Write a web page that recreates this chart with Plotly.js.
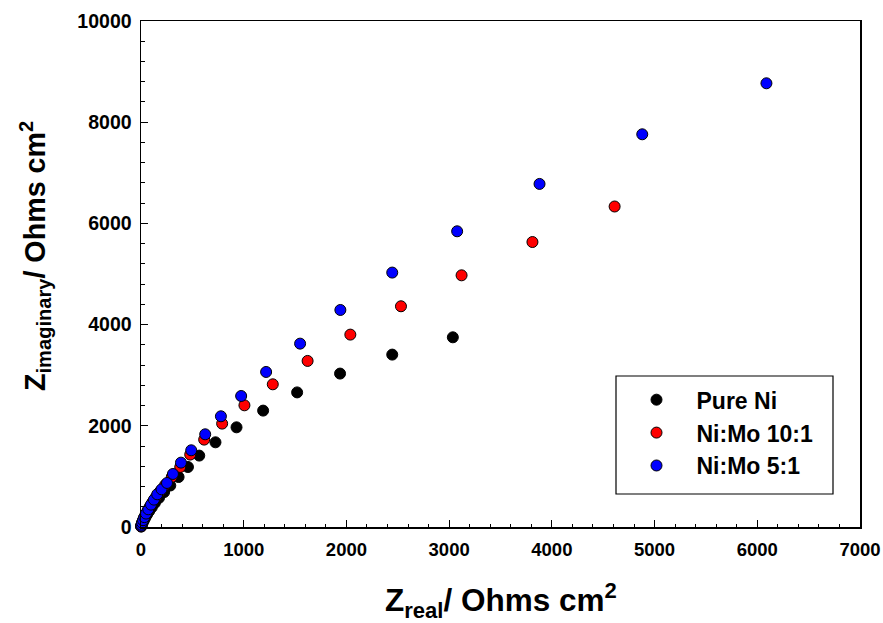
<!DOCTYPE html>
<html>
<head>
<meta charset="utf-8">
<script src="https://cdn.plot.ly/plotly-3.0.1.min.js"></script>
<style>html,body{margin:0;padding:0;background:#fff;}#chart{width:883px;height:623px;}</style>
</head>
<body>
<div id="chart"></div>
<script>
// Pure Ni
const niX = [2, 5, 11, 19, 30, 43, 60, 80, 105, 135, 175, 225, 285, 366, 457, 567, 725, 930, 1189, 1520, 1938, 2446, 3036];
const niY = [10, 30, 60, 95, 140, 190, 250, 315, 390, 475, 575, 690, 820, 988, 1186, 1411, 1674, 1970, 2300, 2660, 3032, 3407, 3749];
// Ni:Mo 10:1
const m10X = [1, 4, 9, 18, 30, 45, 63, 85, 112, 145, 185, 235, 300, 382, 479, 615, 790, 1007, 1283, 1622, 2038, 2531, 3121, 3811, 4611];
const m10Y = [10, 35, 75, 125, 185, 250, 320, 400, 490, 590, 700, 830, 990, 1186, 1431, 1727, 2043, 2405, 2820, 3282, 3802, 4362, 4974, 5632, 6334];
// Ni:Mo 5:1
const m5X = [2, 5, 11, 20, 32, 49, 71, 97, 126, 158, 200, 253, 311, 389, 489, 625, 778, 975, 1218, 1549, 1941, 2446, 3078, 3880, 4880, 6089];
const m5Y = [18, 45, 85, 135, 195, 265, 350, 442, 541, 646, 745, 870, 1048, 1272, 1516, 1832, 2188, 2589, 3064, 3624, 4289, 5028, 5844, 6780, 7761, 8769];
const seriesNames = ['Pure Ni', 'Ni:Mo 10:1', 'Ni:Mo 5:1'];
const xTicks = [0, 1000, 2000, 3000, 4000, 5000, 6000, 7000];
const yTicks = [0, 2000, 4000, 6000, 8000, 10000];

const FONT = 'Arial, "Liberation Sans", Helvetica, sans-serif';
function mk(x, y, name, color) {
  return {
    x: x, y: y, name: name, type: 'scatter', mode: 'markers',
    marker: {size: 11, color: color, line: {color: '#000', width: 1}},
    cliponaxis: false
  };
}
const data = [
  mk(niX, niY, seriesNames[0], '#000000'),
  mk(m10X, m10Y, seriesNames[1], '#ff0000'),
  mk(m5X, m5Y, seriesNames[2], '#0000ff')
];
const axisCommon = {
  showline: true, linecolor: '#000', linewidth: 1.5, mirror: true,
  ticks: 'inside', ticklen: 7, tickwidth: 1.2, tickcolor: '#000',
  showgrid: false, zeroline: false
};
const layout = {
  width: 883, height: 623,
  margin: {l: 141, r: 23, t: 21, b: 96},
  paper_bgcolor: '#fff', plot_bgcolor: '#fff',
  showlegend: true,
  xaxis: Object.assign({}, axisCommon, {
    range: [0, 7000], tickvals: xTicks, ticktext: xTicks.map(String),
    ticklabelstandoff: 5,
    tickfont: {family: FONT, size: 18.5, color: '#000', weight: 'bold'},
    minor: {dtick: 200, ticks: 'inside', ticklen: 3.5, tickcolor: '#000', tickwidth: 1}
  }),
  yaxis: Object.assign({}, axisCommon, {
    range: [0, 10000], tickvals: yTicks, ticktext: yTicks.map(String),
    ticklabelstandoff: 4,
    tickfont: {family: FONT, size: 19.5, color: '#000', weight: 'bold'},
    minor: {dtick: 400, ticks: 'inside', ticklen: 4, tickcolor: '#000', tickwidth: 1}
  }),
  legend: {
    x: (616.5 - 141) / 719, y: 0.294, xanchor: 'left', yanchor: 'top',
    bgcolor: 'rgba(0,0,0,0)', borderwidth: 0,
    font: {family: FONT, size: 23, color: '#000', weight: 'bold'},
    tracegroupgap: 0, itemwidth: 70
  },
  shapes: [{
    type: 'rect', xref: 'paper', yref: 'paper',
    x0: (616 - 141) / 719, x1: (833 - 141) / 719,
    y0: (527 - 494) / 506, y1: (527 - 376) / 506,
    line: {color: '#000', width: 1.2}, fillcolor: 'rgba(0,0,0,0)'
  }],
  annotations: [
    {
      xref: 'paper', yref: 'paper', x: 0.5, y: -0.145, xanchor: 'center', yanchor: 'middle',
      showarrow: false,
      text: 'Z<sub>real</sub>/ Ohms cm<sup>2</sup>',
      font: {family: FONT, size: 31.5, color: '#000', weight: 'bold'}
    },
    {
      xref: 'paper', yref: 'paper', x: (35 - 141) / 719, y: (527 - 256) / 506,
      xanchor: 'center', yanchor: 'middle', textangle: -90,
      showarrow: false,
      text: 'Z<sub>imaginary</sub>/ Ohms cm<sup>2</sup>',
      font: {family: FONT, size: 28.7, color: '#000', weight: 'bold'}
    }
  ]
};
Plotly.newPlot('chart', data, layout, {displayModeBar: false, staticPlot: true});
</script>
</body>
</html>
